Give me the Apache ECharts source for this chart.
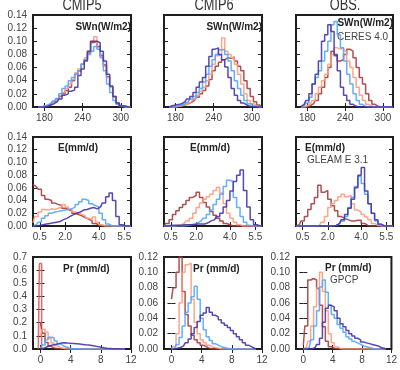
<!DOCTYPE html>
<html><head><meta charset="utf-8">
<script src="https://cdn.jsdelivr.net/npm/echarts@6/dist/echarts.min.js"></script>
<style>html,body{margin:0;padding:0;background:#fff}#c{width:400px;height:370px}</style>
</head><body><div id="c"></div>
<script>
// ---------- bins ----------
const swX = [170,175,180,185,190,195,200,205,210,215,220,225,230,235,240,245,250,255,260,265,270,275,280,285,290,295,300,305,310,315];
const eX = [0.1,0.3,0.5,0.7,0.9,1.1,1.3,1.5,1.7,1.9,2.1,2.3,2.5,2.7,2.9,3.1,3.3,3.5,3.7,3.9,4.1,4.3,4.5,4.7,4.9,5.1,5.3,5.5,5.7,5.9];
const prX = [0,0.4,0.8,1.2,1.6,2.0,2.4,2.8,3.2,3.6,4.0,4.4,4.8,5.2,5.6,6.0,6.4,6.8,7.2,7.6,8.0,8.4,8.8,9.2,9.6,10.0,10.4,10.8,11.2];

// ---------- SWn ----------
const sw5DarkRed   = [0,0,0.001,0.002,0.004,0.008,0.012,0.016,0.02,0.025,0.03,0.04,0.05,0.055,0.065,0.072,0.082,0.098,0.1,0.092,0.078,0.064,0.046,0.03,0.016,0.006,0.002,0.001,0,0];
const sw5Salmon    = [0,0,0.001,0.002,0.005,0.008,0.012,0.017,0.022,0.028,0.035,0.042,0.052,0.058,0.066,0.075,0.085,0.1,0.107,0.09,0.08,0.062,0.045,0.03,0.015,0.006,0.002,0,0,0];
const sw5LightBlue = [0,0,0.001,0.003,0.005,0.009,0.013,0.02,0.028,0.032,0.04,0.045,0.05,0.055,0.065,0.072,0.08,0.085,0.092,0.088,0.075,0.055,0.035,0.022,0.01,0.004,0.001,0,0,0];
const sw5DarkBlue  = [0,0,0,0.001,0.003,0.005,0.008,0.012,0.018,0.02,0.024,0.026,0.03,0.048,0.058,0.07,0.085,0.1,0.1,0.098,0.085,0.07,0.05,0.032,0.016,0.006,0.002,0.001,0,0];

const sw6DarkRed   = [0,0,0,0.001,0.002,0.003,0.005,0.007,0.01,0.015,0.02,0.025,0.032,0.042,0.055,0.062,0.068,0.072,0.075,0.074,0.076,0.07,0.062,0.055,0.04,0.028,0.016,0.008,0.003,0];
const sw6Salmon    = [0,0,0,0.001,0.002,0.003,0.005,0.008,0.012,0.018,0.024,0.03,0.04,0.05,0.065,0.078,0.08,0.105,0.085,0.08,0.075,0.065,0.05,0.035,0.02,0.01,0.005,0.002,0,0];
const sw6LightBlue = [0,0,0.001,0.002,0.003,0.005,0.008,0.012,0.016,0.022,0.028,0.038,0.05,0.062,0.072,0.08,0.087,0.087,0.08,0.07,0.055,0.04,0.028,0.018,0.01,0.005,0.002,0.001,0,0];
const sw6DarkBlue  = [0,0.002,0.003,0.004,0.005,0.008,0.012,0.016,0.022,0.03,0.038,0.045,0.062,0.077,0.088,0.09,0.08,0.072,0.061,0.045,0.028,0.018,0.01,0.006,0.003,0.001,0,0,0,0];

const swObsDarkRed   = [0,0,0,0.002,0.005,0.01,0.02,0.03,0.045,0.06,0.085,0.078,0.07,0.072,0.08,0.088,0.085,0.075,0.06,0.045,0.035,0.02,0.01,0.004,0.001,0,0,0,0,0];
const swObsSalmon    = [0,0,0.002,0.005,0.01,0.02,0.03,0.04,0.05,0.065,0.08,0.09,0.088,0.09,0.085,0.07,0.06,0.045,0.03,0.018,0.01,0.004,0.001,0,0,0,0,0,0,0];
const swObsLightBlue = [0,0.002,0.006,0.015,0.035,0.045,0.055,0.07,0.085,0.1,0.125,0.13,0.11,0.09,0.07,0.05,0.035,0.02,0.01,0.004,0.001,0,0,0,0,0,0,0,0,0];
const swObsDarkBlue  = [0.001,0.004,0.01,0.02,0.035,0.05,0.07,0.1,0.11,0.125,0.115,0.08,0.055,0.03,0.018,0.01,0.004,0.001,0,0,0,0,0,0,0,0,0,0,0,0];

// ---------- E ----------
const e5DarkRed   = [0.065,0.062,0.058,0.048,0.042,0.04,0.036,0.034,0.032,0.028,0.026,0.024,0.02,0.018,0.016,0.013,0.011,0.008,0.004,0.002,0,0,0,0,0,0,0,0,0,0];
const e5Salmon    = [0.005,0.015,0.022,0.026,0.025,0.027,0.026,0.028,0.03,0.034,0.03,0.026,0.022,0.02,0.018,0.016,0.012,0.01,0.014,0.006,0.002,0,0,0,0,0,0,0,0,0];
const e5LightBlue = [0,0.002,0.006,0.012,0.016,0.02,0.022,0.023,0.024,0.025,0.026,0.027,0.03,0.034,0.038,0.042,0.04,0.035,0.032,0.03,0.02,0.01,0.003,0,0,0,0,0,0,0];
const e5DarkBlue  = [0,0,0.001,0.002,0.003,0.004,0.005,0.006,0.007,0.01,0.012,0.015,0.018,0.02,0.022,0.025,0.026,0.028,0.029,0.027,0.03,0.036,0.046,0.052,0.04,0.015,0.002,0,0,0];

const e6DarkRed   = [0,0.004,0.01,0.018,0.024,0.029,0.034,0.04,0.045,0.048,0.053,0.045,0.037,0.03,0.023,0.017,0.012,0.008,0.004,0.002,0,0,0,0,0,0,0,0,0,0];
const e6Salmon    = [0,0,0,0,0.001,0.002,0.004,0.008,0.012,0.02,0.029,0.036,0.042,0.046,0.05,0.056,0.061,0.052,0.035,0.02,0.012,0.006,0.002,0,0,0,0,0,0,0];
const e6LightBlue = [0,0,0,0,0,0,0,0.001,0.002,0.003,0.005,0.008,0.012,0.018,0.025,0.034,0.042,0.05,0.062,0.072,0.07,0.045,0.029,0.015,0.006,0.001,0,0,0,0];
const e6DarkBlue  = [0,0,0.001,0.001,0.001,0.001,0.002,0.002,0.002,0.002,0.003,0.003,0.003,0.005,0.008,0.01,0.015,0.02,0.03,0.04,0.055,0.07,0.08,0.088,0.056,0.03,0.01,0.002,0,0];

const eObsDarkRed   = [0,0.002,0.008,0.015,0.026,0.035,0.045,0.064,0.053,0.056,0.042,0.032,0.024,0.015,0.012,0.01,0.008,0.008,0.009,0.009,0.004,0.001,0,0,0,0,0,0,0,0];
const eObsSalmon    = [0,0,0,0,0,0,0,0.001,0.006,0.015,0.029,0.035,0.04,0.046,0.05,0.046,0.048,0.035,0.025,0.022,0.018,0.014,0.01,0.004,0.001,0,0,0,0,0];
const eObsLightBlue = [0,0,0,0,0,0,0,0,0,0,0,0,0.001,0.003,0.008,0.015,0.029,0.045,0.062,0.078,0.067,0.05,0.035,0.02,0.008,0.002,0,0,0,0];
const eObsDarkBlue  = [0,0,0,0,0,0,0,0,0,0,0,0,0.001,0.004,0.01,0.018,0.028,0.042,0.06,0.08,0.092,0.055,0.035,0.02,0.01,0.003,0,0,0,0];

// ---------- Pr ----------
const pr5SpikeX   = [-0.3,0,0.3];
const pr5Spike    = [0,0.65,0];
const pr5DarkRed   = [0.2,0.12,0.05,0.02,0.008,0.003,0.001,0,0,0,0,0,0,0,0,0,0,0,0,0,0,0,0,0,0,0,0,0,0];
const pr5Salmon    = [0.1,0.15,0.13,0.08,0.045,0.025,0.012,0.005,0.002,0,0,0,0,0,0,0,0,0,0,0,0,0,0,0,0,0,0,0,0];
const pr5LightBlue = [0.005,0.03,0.07,0.09,0.085,0.06,0.04,0.025,0.015,0.008,0.004,0.002,0.001,0,0,0,0,0,0,0,0,0,0,0,0,0,0,0,0];
const pr5DarkBlue  = [0,0.005,0.015,0.025,0.03,0.035,0.04,0.045,0.048,0.045,0.043,0.042,0.04,0.038,0.035,0.032,0.03,0.026,0.022,0.018,0.013,0.009,0.006,0.004,0.002,0.001,0,0,0];

const pr6DarkRed   = [0.065,0.08,0.1,0.12,0.075,0.045,0.03,0.018,0.012,0.008,0.005,0.003,0.001,0,0,0,0,0,0,0,0,0,0,0,0,0,0,0,0];
const pr6Salmon    = [0,0.003,0.02,0.06,0.1,0.11,0.112,0.065,0.035,0.02,0.012,0.008,0.005,0.003,0.002,0.001,0,0,0,0,0,0,0,0,0,0,0,0,0];
const pr6LightBlue = [0,0.001,0.006,0.015,0.03,0.048,0.06,0.068,0.082,0.065,0.04,0.025,0.016,0.011,0.007,0.005,0.003,0.002,0.001,0,0,0,0,0,0,0,0,0,0];
const pr6DarkBlue  = [0,0,0.001,0.002,0.004,0.008,0.013,0.02,0.028,0.036,0.044,0.047,0.054,0.048,0.044,0.042,0.038,0.034,0.031,0.028,0.024,0.02,0.016,0.012,0.008,0.005,0.003,0.001,0];

const prObsDarkRed   = [0.005,0.03,0.09,0.092,0.09,0.079,0.057,0.029,0.01,0.003,0.001,0,0,0,0,0,0,0,0,0,0,0,0,0,0,0,0,0,0];
const prObsSalmon    = [0,0.002,0.01,0.03,0.055,0.08,0.1,0.075,0.05,0.02,0.008,0.003,0.001,0,0,0,0,0,0,0,0,0,0,0,0,0,0,0,0];
const prObsLightBlue = [0,0,0.002,0.012,0.03,0.05,0.081,0.09,0.074,0.057,0.045,0.04,0.032,0.027,0.022,0.016,0.013,0.01,0.008,0.006,0.004,0.003,0.002,0.001,0,0,0,0,0];
const prObsDarkBlue  = [0,0,0,0,0.002,0.006,0.014,0.035,0.053,0.057,0.055,0.05,0.04,0.033,0.029,0.024,0.02,0.017,0.014,0.012,0.009,0.008,0.007,0.006,0.005,0.004,0.002,0.001,0];

// ---------- tick labels ----------
const swTicks = [180,240,300];
const eTicks = [0.5,2.0,4.0,5.5];
const prTicks = [0,4,8,12];
const colTitles = ['CMIP5','CMIP6','OBS.'];

// ---------- styling ----------
const C = {darkRed:'#a73c3c', salmon:'#ff9b7b', lightBlue:'#52a6ff', darkBlue:'#4535aa', red:'#e35a5a'};
const FONT = 'Liberation Sans, Arial, sans-serif';
const cols = [{left:33,width:98},{left:164,width:98},{left:296,width:97}];
const rows = [{top:15,height:92},{top:137,height:89},{top:257,height:92}];

const S = (x,y,color)=>({x,y,color});
const panels = [
  {r:0,c:0,xMin:162,xMax:316,ticks:swTicks,dec:0,yMax:0.14,yInt:0.02,yDec:2,yLab:true,
   series:[S(swX,sw5DarkRed,C.darkRed),S(swX,sw5Salmon,C.salmon),S(swX,sw5LightBlue,C.lightBlue),S(swX,sw5DarkBlue,C.darkBlue)]},
  {r:0,c:1,xMin:162,xMax:316,ticks:swTicks,dec:0,yMax:0.14,yInt:0.02,yDec:2,yLab:false,
   series:[S(swX,sw6DarkRed,C.darkRed),S(swX,sw6Salmon,C.salmon),S(swX,sw6LightBlue,C.lightBlue),S(swX,sw6DarkBlue,C.darkBlue)]},
  {r:0,c:2,xMin:162,xMax:316,ticks:swTicks,dec:0,yMax:0.14,yInt:0.02,yDec:2,yLab:false,
   series:[S(swX,swObsDarkRed,C.darkRed),S(swX,swObsSalmon,C.salmon),S(swX,swObsLightBlue,C.lightBlue),S(swX,swObsDarkBlue,C.darkBlue)]},
  {r:1,c:0,xMin:0.1,xMax:5.9,ticks:eTicks,dec:1,yMax:0.14,yInt:0.02,yDec:2,yLab:true,
   series:[S(eX,e5DarkRed,C.darkRed),S(eX,e5Salmon,C.salmon),S(eX,e5LightBlue,C.lightBlue),S(eX,e5DarkBlue,C.darkBlue)]},
  {r:1,c:1,xMin:0.1,xMax:5.9,ticks:eTicks,dec:1,yMax:0.14,yInt:0.02,yDec:2,yLab:false,
   series:[S(eX,e6DarkRed,C.darkRed),S(eX,e6Salmon,C.salmon),S(eX,e6LightBlue,C.lightBlue),S(eX,e6DarkBlue,C.darkBlue)]},
  {r:1,c:2,xMin:0.1,xMax:5.9,ticks:eTicks,dec:1,yMax:0.14,yInt:0.02,yDec:2,yLab:false,
   series:[S(eX,eObsDarkRed,C.darkRed),S(eX,eObsSalmon,C.salmon),S(eX,eObsLightBlue,C.lightBlue),S(eX,eObsDarkBlue,C.darkBlue)]},
  {r:2,c:0,xMin:-1,xMax:12,ticks:prTicks,dec:0,yMax:0.7,yInt:0.1,yDec:1,yLab:true,
   series:[S(pr5SpikeX,pr5Spike,C.red),S(prX,pr5DarkRed,C.darkRed),S(prX,pr5Salmon,C.salmon),S(prX,pr5LightBlue,C.lightBlue),S(prX,pr5DarkBlue,C.darkBlue)]},
  {r:2,c:1,xMin:-1,xMax:12,ticks:prTicks,dec:0,yMax:0.12,yInt:0.02,yDec:2,yLab:true,
   series:[S(prX,pr6DarkRed,C.darkRed),S(prX,pr6Salmon,C.salmon),S(prX,pr6LightBlue,C.lightBlue),S(prX,pr6DarkBlue,C.darkBlue)]},
  {r:2,c:2,xMin:-1,xMax:12,ticks:prTicks,dec:0,yMax:0.12,yInt:0.02,yDec:2,yLab:true,
   series:[S(prX,prObsDarkRed,C.darkRed),S(prX,prObsSalmon,C.salmon),S(prX,prObsLightBlue,C.lightBlue),S(prX,prObsDarkBlue,C.darkBlue)]}
];

const grid=[], xAxis=[], yAxis=[], series=[];
const tickStyle = {color:'#222', width:1};
panels.forEach((p,k)=>{
  grid.push({left:cols[p.c].left, top:rows[p.r].top, width:cols[p.c].width, height:rows[p.r].height,
    show:true, borderColor:'#1e1e1e', borderWidth:2, backgroundColor:'transparent'});
  const xBase = {type:'value', gridIndex:k, min:p.xMin, max:p.xMax, splitLine:{show:false}, axisLine:{show:false}};
  xAxis.push(Object.assign({}, xBase, {position:'bottom',
    axisTick:{show:true, inside:true, length:4, customValues:p.ticks, lineStyle:tickStyle},
    axisLabel:{show:true, customValues:p.ticks, margin:6, color:'#444', fontSize:10, fontFamily:FONT,
      formatter:v=>Number(v).toFixed(p.dec)}}));
  xAxis.push(Object.assign({}, xBase, {position:'top',
    axisTick:{show:true, inside:true, length:4, customValues:p.ticks, lineStyle:tickStyle},
    axisLabel:{show:false}}));
  const yBase = {type:'value', gridIndex:k, min:0, max:p.yMax, interval:p.yInt, splitLine:{show:false}, axisLine:{show:false}};
  yAxis.push(Object.assign({}, yBase, {position:'left',
    axisTick:{show:true, inside:true, length:4, lineStyle:tickStyle},
    axisLabel:{show:p.yLab, margin:6, color:'#444', fontSize:10, fontFamily:FONT,
      formatter:v=>Number(v).toFixed(p.yDec)}}));
  yAxis.push(Object.assign({}, yBase, {position:'right',
    axisTick:{show:true, inside:true, length:4, lineStyle:tickStyle},
    axisLabel:{show:false}}));
  p.series.forEach((s,j)=>{
    series.push({type:'line', xAxisIndex:2*k, yAxisIndex:2*k, step:'middle', symbol:'none', silent:true,
      data:s.x.map((xv,i)=>[xv, s.y[i]]), z:2+j,
      lineStyle:{color:s.color, width:1.5, opacity:0.9}, itemStyle:{color:s.color}});
  });
});

const txt = (text,x,y,opt)=>Object.assign({type:'text', x, y, silent:true,
  style:Object.assign({text, fill:'#222', font:'bold 10px '+FONT, textAlign:'left', textVerticalAlign:'middle'}, opt||{})});
const graphic = [];
const titleX = [82,214,345];
colTitles.forEach((t,i)=>{
  graphic.push({type:'text', x:titleX[i], y:6, scaleX:0.8, silent:true,
    style:{text:t, fill:'#333', font:'16px '+FONT, textAlign:'center', textVerticalAlign:'middle'}});
});
graphic.push(txt('SWn(W/m2)',131,27,{textAlign:'right'}));
graphic.push(txt('SWn(W/m2)',262,27,{textAlign:'right'}));
graphic.push(txt('SWn(W/m2)',393,23,{textAlign:'right'}));
graphic.push(txt('CERES 4.0',337,37,{font:'10px '+FONT, fill:'#444'}));
graphic.push(txt('E(mm/d)',58,148));
graphic.push(txt('E(mm/d)',190,148));
graphic.push(txt('E(mm/d)',305,148));
graphic.push(txt('GLEAM E 3.1',307,160,{font:'10px '+FONT, fill:'#444'}));
graphic.push(txt('Pr (mm/d)',63,269));
graphic.push(txt('Pr (mm/d)',193,269));
graphic.push(txt('Pr (mm/d)',325,268));
graphic.push(txt('GPCP',330,280,{font:'10px '+FONT, fill:'#444'}));

const chart = echarts.init(document.getElementById('c'), null, {renderer:'canvas'});
chart.setOption({animation:false, backgroundColor:'#fff', grid, xAxis, yAxis, series, graphic});
</script></body></html>
